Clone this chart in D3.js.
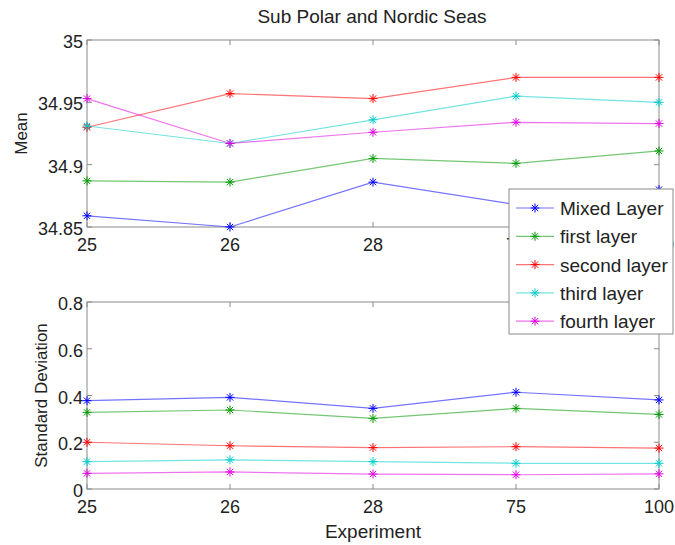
<!DOCTYPE html>
<html>
<head>
<meta charset="utf-8">
<script src="https://cdn.jsdelivr.net/npm/d3@7"></script>
<style>
  body { margin: 0; background: #fff; }
  svg text { font-family: "Liberation Sans", Arial, sans-serif; fill: #222; }
</style>
</head>
<body>
<div id="app"></div>
<script>
// experiments on the x axis (spaced evenly, as categories)
let experiments = ['25', '26', '28', '75', '100'];
let layers = ['Mixed Layer', 'first layer', 'second layer', 'third layer', 'fourth layer'];
let colors = ['#0000ff', '#009900', '#ff0000', '#00cccc', '#e000e0'];

// mean salinity, one row per layer
let meanMixed  = [34.859, 34.850, 34.886, 34.868, 34.880];
let meanFirst  = [34.887, 34.886, 34.905, 34.901, 34.911];
let meanSecond = [34.930, 34.957, 34.953, 34.970, 34.970];
let meanThird  = [34.931, 34.917, 34.936, 34.955, 34.950];
let meanFourth = [34.953, 34.917, 34.926, 34.934, 34.933];

// standard deviation
let sdMixed  = [0.378, 0.392, 0.345, 0.414, 0.381];
let sdFirst  = [0.328, 0.338, 0.302, 0.345, 0.319];
let sdSecond = [0.200, 0.185, 0.177, 0.181, 0.175];
let sdThird  = [0.117, 0.125, 0.117, 0.110, 0.110];
let sdFourth = [0.067, 0.073, 0.064, 0.061, 0.065];

let meanTicks = [34.85, 34.9, 34.95, 35];
let sdTicks = [0, 0.2, 0.4, 0.6, 0.8];

let meanSeries = [meanMixed, meanFirst, meanSecond, meanThird, meanFourth];
let sdSeries = [sdMixed, sdFirst, sdSecond, sdThird, sdFourth];

let svgWidth = 675, svgHeight = 545;
let left = 87, right = 659;

let svg = d3.select('#app').append('svg')
    .attr('width', svgWidth)
    .attr('height', svgHeight);

let x = d3.scalePoint().domain(experiments).range([left, right]);

        //asterisk marker
function star(g, cx, cy, color, r) {
    let s = g.append('g').attr('transform', `translate(${cx},${cy})`)
        .attr('stroke', color).attr('stroke-width', 1);
    s.append('line').attr('x1', -r).attr('x2', r).attr('y1', 0).attr('y2', 0);
    s.append('line').attr('x1', 0).attr('x2', 0).attr('y1', -r).attr('y2', r);
    let d = r * 0.7;
    s.append('line').attr('x1', -d).attr('x2', d).attr('y1', -d).attr('y2', d);
    s.append('line').attr('x1', -d).attr('x2', d).attr('y1', d).attr('y2', -d);
}

function panel(top, bottom, domain, ticks, series, ylabel, ylabelX) {
    let y = d3.scaleLinear().domain(domain).range([bottom, top]);
    let g = svg.append('g');

    g.append('rect')
        .attr('x', left).attr('y', top)
        .attr('width', right - left).attr('height', bottom - top)
        .attr('fill', 'none').attr('stroke', '#8a8a8a');

            //inward ticks on all four sides
    experiments.forEach(e => {
        g.append('line').attr('x1', x(e)).attr('x2', x(e)).attr('y1', bottom).attr('y2', bottom - 5).attr('stroke', '#8a8a8a');
        g.append('line').attr('x1', x(e)).attr('x2', x(e)).attr('y1', top).attr('y2', top + 5).attr('stroke', '#8a8a8a');
        g.append('text').attr('x', x(e)).attr('y', bottom + 24)
            .attr('text-anchor', 'middle').attr('font-size', 18).text(e);
    });
    ticks.forEach(t => {
        g.append('line').attr('x1', left).attr('x2', left + 5).attr('y1', y(t)).attr('y2', y(t)).attr('stroke', '#8a8a8a');
        g.append('line').attr('x1', right).attr('x2', right - 5).attr('y1', y(t)).attr('y2', y(t)).attr('stroke', '#8a8a8a');
        g.append('text').attr('x', left - 4).attr('y', y(t) + 8)
            .attr('text-anchor', 'end').attr('font-size', 18).text(String(t));
    });

    g.append('text')
        .attr('transform', `translate(${ylabelX},${(top + bottom) / 2}) rotate(-90)`)
        .attr('text-anchor', 'middle').attr('font-size', 17).text(ylabel);

    let line = d3.line().x((d, i) => x(experiments[i])).y(d => y(d));
    series.forEach((vals, k) => {
        g.append('path').attr('d', line(vals))
            .attr('fill', 'none').attr('stroke', colors[k])
            .attr('stroke-opacity', 0.55).attr('stroke-width', 1.2);
        vals.forEach((v, i) => star(g, x(experiments[i]), y(v), colors[k], 4.5));
    });
}

panel(40, 227, [34.85, 35], meanTicks, meanSeries, 'Mean', 27);
panel(302, 489, [0, 0.8], sdTicks, sdSeries, 'Standard Deviation', 47);

svg.append('text').attr('x', 372).attr('y', 23)
    .attr('text-anchor', 'middle').attr('font-size', 19).text('Sub Polar and Nordic Seas');
svg.append('text').attr('x', 373).attr('y', 538)
    .attr('text-anchor', 'middle').attr('font-size', 19).text('Experiment');

        //legend
let legend = svg.append('g');
legend.append('rect').attr('x', 509).attr('y', 189).attr('width', 164).attr('height', 145)
    .attr('fill', '#fff').attr('stroke', '#8a8a8a');
layers.forEach((name, k) => {
    let ly = 208 + k * 28.3;
    legend.append('line').attr('x1', 516).attr('x2', 554).attr('y1', ly).attr('y2', ly)
        .attr('stroke', colors[k]).attr('stroke-opacity', 0.55).attr('stroke-width', 1.2);
    star(legend, 535, ly, colors[k], 4.5);
    legend.append('text').attr('x', 560).attr('y', ly + 7).attr('font-size', 19).text(name);
});
</script>
</body>
</html>
